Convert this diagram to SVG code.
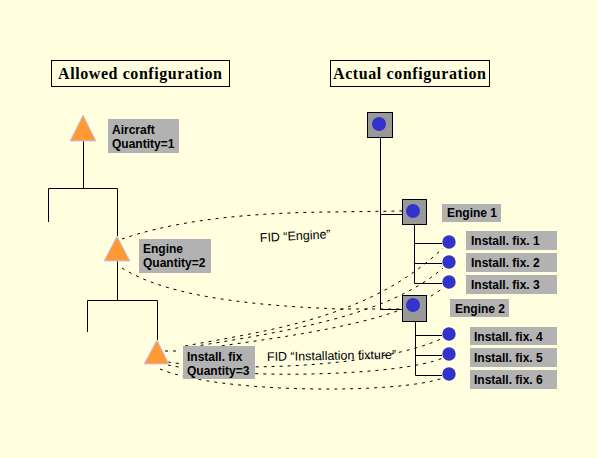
<svg xmlns="http://www.w3.org/2000/svg" width="597" height="458" viewBox="0 0 597 458">
<style>
.title{font-family:"Liberation Serif","Times New Roman",serif;font-weight:bold;font-size:16px;fill:#000}
.lbl{font-family:"Liberation Sans",Arial,sans-serif;font-weight:bold;font-size:12px;fill:#000}
.fid{font-family:"Liberation Sans",Arial,sans-serif;font-size:12.5px;fill:#000}
.box{fill:#B2B2B2}
.tbox{fill:none;stroke:#000;stroke-width:1}
.tri{fill:#FF9933;stroke:#C8C8FF;stroke-width:1}
.sq{fill:#999999;stroke:#000;stroke-width:1}
.dot{fill:#3333CC}
.ln{stroke:#000;stroke-width:1;fill:none}
.dash{stroke:#000;stroke-width:1;fill:none;stroke-dasharray:3,5}
</style>
<rect width="597" height="458" fill="#FFFFE0"/>
<g id="title-allowed">
<rect class="tbox" x="51.5" y="60.5" width="178" height="26"/>
<text class="title" x="58" y="79" textLength="164">Allowed configuration</text>
</g>
<g id="title-actual">
<rect class="tbox" x="330.5" y="60.5" width="159" height="26"/>
<text class="title" x="333" y="79" textLength="153">Actual configuration</text>
</g>
<g id="connectors">
<path class="ln" d="M83.5,141V188.5M48.5,222V188.5H117.5V236M117.5,261V300.5M87.5,332V300.5H157.5V340"/>
<path class="ln" d="M380.5,137V309.5H402M380.5,214.5H402M414.5,224V283.5M414.5,243.5H442M414.5,263.5H442M414.5,283.5H442M415.5,321V375.5M415.5,335.5H442M415.5,355.5H442M415.5,375.5H442"/>
<path class="dash" d="M122,239 C160,226 220,213 330,212 L402,211"/>
<path class="dash" d="M122,268 C160,292 230,305 340,309 L402,309"/>
<path class="dash" d="M165,351 L178,351"/>
<path class="dash" d="M185,346 C270,330 370,318 443,248"/>
<path class="dash" d="M185,348 C280,332 385,318 443,268"/>
<path class="dash" d="M190,350 C295,336 400,322 443,288"/>
<path class="dash" d="M168,362 C230,372 380,368 443,338"/>
<path class="dash" d="M168,365 C240,380 400,376 443,358"/>
<path class="dash" d="M160,369 C220,394 400,394 443,378"/>
</g>
<g id="aircraft">
<polygon class="tri" points="83,115 96,141 70,141"/>
<rect class="box" x="108" y="119" width="71" height="34"/>
<text class="lbl" x="112" y="134">Aircraft</text>
<text class="lbl" x="112" y="148">Quantity=1</text>
</g>
<g id="engine">
<polygon class="tri" points="117,236 130,261 104,261"/>
<rect class="box" x="139" y="239" width="72" height="34"/>
<text class="lbl" x="143" y="253">Engine</text>
<text class="lbl" x="143" y="267">Quantity=2</text>
</g>
<g id="install-fix">
<polygon class="tri" points="157,340 169,364 144,364"/>
<rect class="box" x="183" y="346" width="72" height="33"/>
<text class="lbl" x="187" y="361">Install. fix</text>
<text class="lbl" x="187" y="375">Quantity=3</text>
</g>
<g id="fid-engine">
<text class="fid" x="260" y="242" transform="rotate(-3 260 242)">FID “Engine”</text>
</g>
<g id="fid-install">
<text class="fid" x="267" y="361" transform="rotate(-1 267 361)">FID “Installation fixture”</text>
</g>
<g id="root">
<rect class="sq" x="367.5" y="112.5" width="25" height="25"/>
<circle class="dot" cx="379" cy="124" r="7"/>
</g>
<g id="engine1">
<rect class="sq" x="402.5" y="199.5" width="24" height="25"/>
<circle class="dot" cx="413" cy="211" r="7"/>
<rect class="box" x="442" y="204" width="59" height="18"/>
<text class="lbl" x="447" y="217">Engine 1</text>
</g>
<g id="engine2">
<rect class="sq" x="402.5" y="295.5" width="24" height="26"/>
<circle class="dot" cx="413" cy="305" r="7"/>
<rect class="box" x="450" y="299" width="59" height="18"/>
<text class="lbl" x="455" y="313">Engine 2</text>
</g>
<g id="fix1">
<circle class="dot" cx="449" cy="242" r="6.7"/>
<rect class="box" x="466" y="231" width="91" height="19"/>
<text class="lbl" x="471" y="245">Install. fix. 1</text>
</g>
<g id="fix2">
<circle class="dot" cx="449" cy="262" r="6.7"/>
<rect class="box" x="466" y="253" width="91" height="19"/>
<text class="lbl" x="471" y="267">Install. fix. 2</text>
</g>
<g id="fix3">
<circle class="dot" cx="449" cy="282" r="6.7"/>
<rect class="box" x="466" y="275" width="91" height="19"/>
<text class="lbl" x="471" y="289">Install. fix. 3</text>
</g>
<g id="fix4">
<circle class="dot" cx="449" cy="334" r="6.7"/>
<rect class="box" x="470" y="327" width="87" height="18"/>
<text class="lbl" x="474" y="341">Install. fix. 4</text>
</g>
<g id="fix5">
<circle class="dot" cx="449" cy="354" r="6.7"/>
<rect class="box" x="470" y="348" width="87" height="19"/>
<text class="lbl" x="474" y="362">Install. fix. 5</text>
</g>
<g id="fix6">
<circle class="dot" cx="449" cy="374" r="6.7"/>
<rect class="box" x="470" y="370" width="87" height="19"/>
<text class="lbl" x="474" y="384">Install. fix. 6</text>
</g>
</svg>
